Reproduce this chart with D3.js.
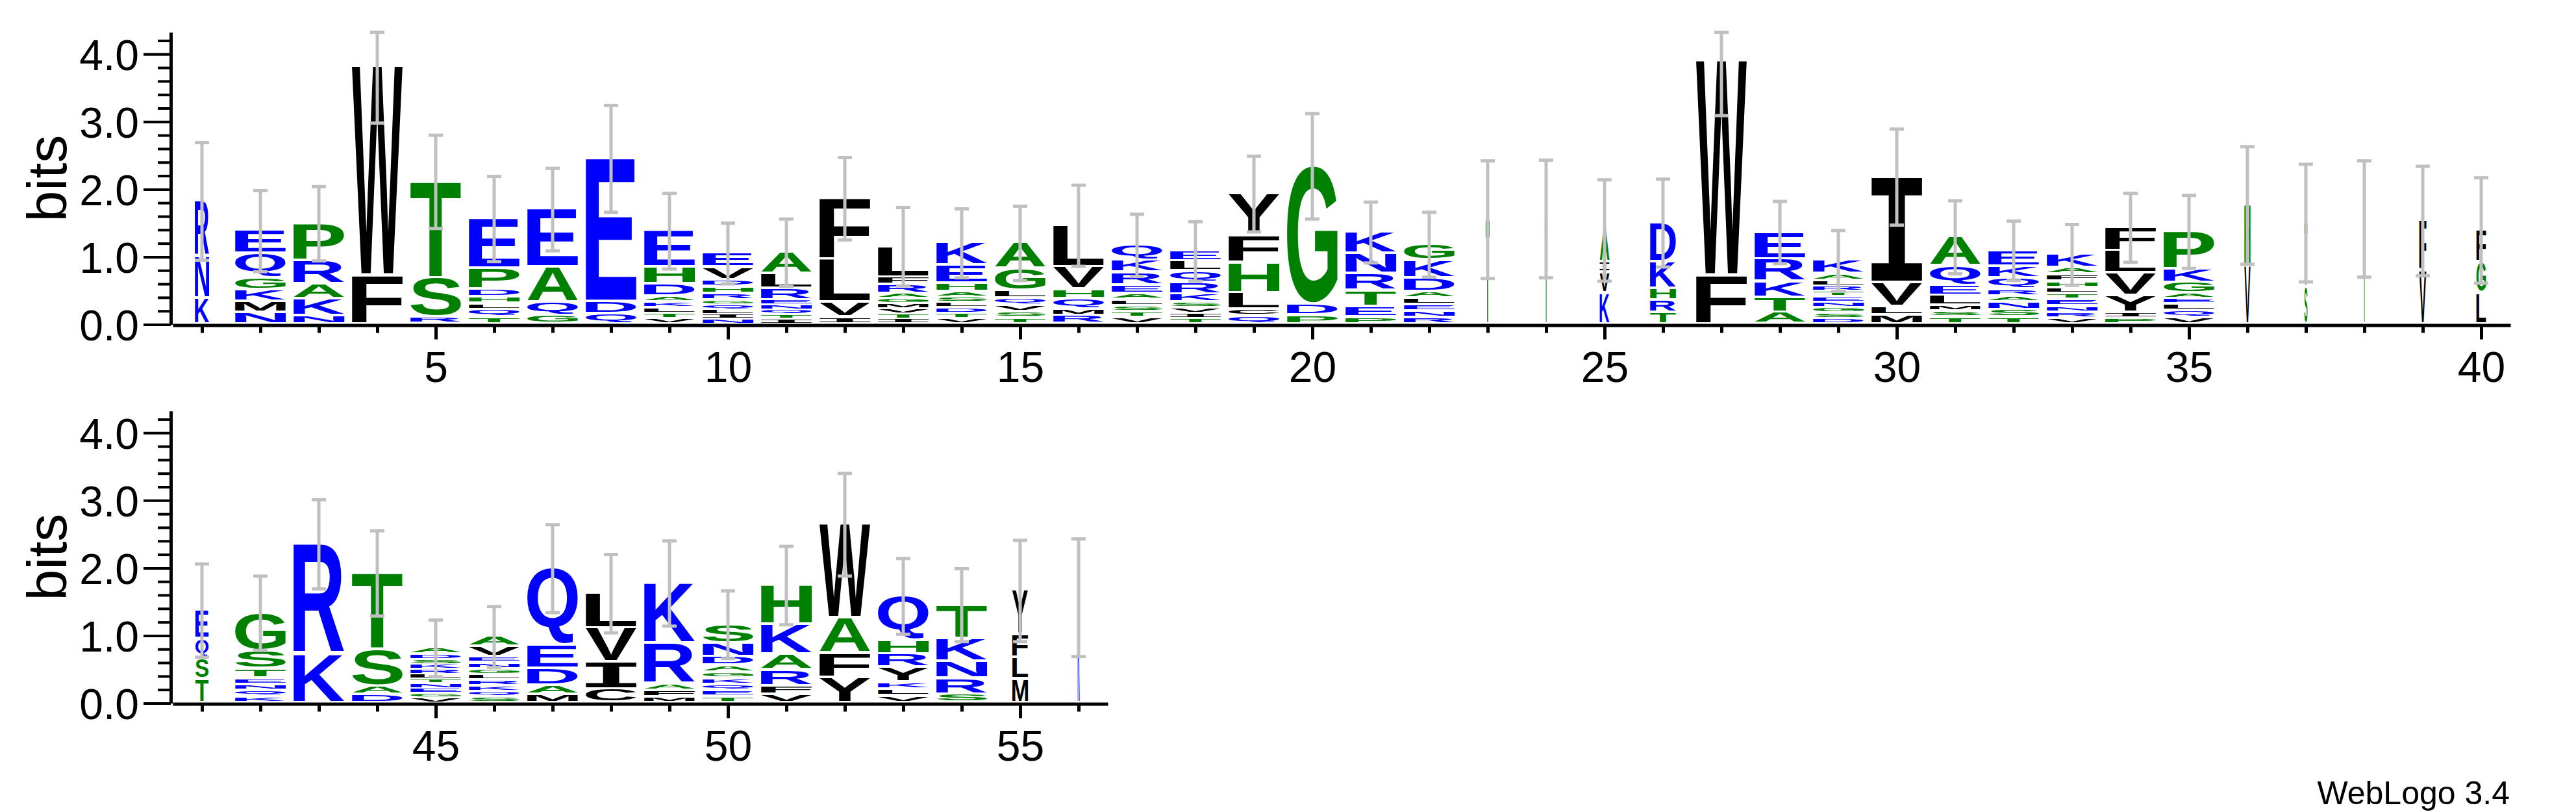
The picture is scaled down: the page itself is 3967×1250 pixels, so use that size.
<!DOCTYPE html>
<html>
<head>
<meta charset="utf-8">
<script src="https://cdn.jsdelivr.net/npm/d3@7"></script>
<style>
  html, body { margin: 0; padding: 0; background: #ffffff; }
  svg { display: block; }
</style>
</head>
<body>
<script>
// ---------------- DATA ----------------
// Letters of each stack, listed bottom-up, one string per position 1..56
const stackLetters = [
  "KNR", "NMKGQE", "NKARP", "FW", "RST", "TQLHDPE", "GQAE", "QDE", "VTLKADHE", "NILQGRHDVE",
  "ITQNERLA", "IVLF", "ITVMGARFL", "VTDLSAHEK", "TSVQLGA", "RMQHVL", "VTSLAERKQ", "TIVSKRQLE", "QCLHFY", "PDG",
  "PETRNK", "RNELADKG", "T", "T", "KVIA", "TRHKD", "FW", "ATKRE", "DSGNETRLAK", "MLVI",
  "TSMLEQA", "TSNARQKE", "VRNETLHFAK", "PIYVLF", "VQLEAGKP", "VH", "ST", "T", "VF", "LGF",
  "TSQE", "KQNETSG", "KR", "DAST", "VGENTLRKSDA", "SQKRLGNEVA", "MADEQ", "CIVL", "MFARK", "TEQKGADNS",
  "VFRAKH", "YFAW", "VLKYRHQ", "SRNKT", "MLFY", "K"
];
// Height (bits) of each letter, same order as stackLetters
const stackBits = [
  [.38,.62,.82], [.17,.16,.17,.18,.36,.34], [.12,.25,.22,.35,.55], [.72,3.10], [.10,.58,1.43],
  [.10,.11,.09,.10,.11,.31,.74], [.12,.20,.52,.86], [.15,.18,2.12], [.08,.08,.08,.09,.08,.18,.25,.54],
  [.07,.07,.07,.07,.07,.10,.10,.10,.19,.21],
  [.07,.07,.07,.07,.07,.17,.22,.32], [.10,.22,.64,.90], [.075,.075,.075,.075,.075,.075,.13,.11,.46],
  [.08,.08,.08,.08,.08,.08,.12,.27,.33], [.09,.09,.10,.10,.11,.33,.38], [.12,.10,.15,.14,.33,.62],
  [.09,.09,.09,.09,.09,.12,.19,.18,.23], [.08,.08,.08,.08,.12,.17,.17,.15,.15], [.12,.10,.24,.45,.40,.62],
  [.13,.16,2.05],
  [.10,.15,.24,.25,.30,.32], [.095,.095,.095,.095,.10,.20,.26,.24], [1.55], [1.56], [.46,.30,.15,.48],
  [.17,.18,.17,.40,.58], [.72,3.18], [.17,.22,.24,.33,.40], [.08,.08,.08,.08,.08,.09,.07,.08,.10,.20],
  [.13,.12,.36,1.57],
  [.10,.09,.08,.15,.15,.29,.43], [.10,.11,.11,.09,.10,.17,.17,.24], [.08,.09,.09,.10,.09,.09,.09,.10,.10,.20],
  [.09,.08,.25,.33,.33,.35], [.10,.10,.10,.08,.07,.16,.20,.56], [.86,.90], [.55,.95], [1.56], [.79,.74],
  [.46,.46,.47],
  [.35,.30,.30,.42], [.09,.09,.09,.09,.14,.27,.56], [.72,1.63], [.12,.12,.55,1.13],
  [.07,.07,.07,.07,.07,.07,.07,.075,.075,.075,.095], [.083,.083,.083,.083,.083,.085,.09,.09,.15,.15],
  [.12,.13,.25,.35,1.14], [.20,.40,.50,.52], [.08,.10,.10,.60,.89], [.09,.09,.09,.09,.09,.10,.13,.20,.28],
  [.12,.12,.24,.24,.44,.58], [.37,.36,.52,1.39], [.10,.10,.10,.22,.20,.20,.66], [.12,.24,.25,.34,.50],
  [.35,.32,.34,.65], [1.56]
];
// Half-length of each error bar (bits)
const errorBits = [
  .87,.60,.55,.84,.69,.63,.61,.79,.56,.45,
  .50,.61,.58,.51,.55,.60,.46,.44,.56,.78,
  .45,.48,.87,.87,.75,.65,.81,.46,.45,.71,
  .54,.44,.45,.51,.54,.87,.87,.86,.81,.78,
  .69,.55,.66,.63,.42,.45,.65,.58,.63,.50,
  .58,.76,.56,.54,.75,.87
];
// Fraction of non-gap sequences (stack width scale), default 1
const occupancy = {1:.28, 23:.08, 24:.05, 25:.19, 26:.51, 36:.12, 37:.06, 38:.04, 39:.14, 40:.19, 41:.26, 55:.31, 56:.04};
const yMajorTicks = [0, 1, 2, 3, 4];
const yMinorTicks = d3.range(1, 22).filter(i => i % 5 !== 0).map(i => i / 5);
const xMajorTicksRow1 = [5, 10, 15, 20, 25, 30, 35, 40];
const xMajorTicksRow2 = [45, 50, 55];
const colorGroups = { hydrophilic: "RKDENQ", neutral: "SGHTAP", hydrophobic: "YVMCLFIW" };
const groupColors = { hydrophilic: "#0000ff", neutral: "#008000", hydrophobic: "#000000" };
const maxBits = Math.log2(20);

// ---------------- LAYOUT ----------------
const W = 3967, H = 1250;
const svg = d3.select("body").append("svg").attr("width", W).attr("height", H)
  .attr("viewBox", `0 0 ${W} ${H}`);
svg.append("rect").attr("width", W).attr("height", H).attr("fill", "#ffffff");

const rows = [
  { first: 1, last: 40, baseline: 499.5, majors: xMajorTicksRow1 },
  { first: 41, last: 56, baseline: 1082.5, majors: xMajorTicksRow2 }
];
const axisX = 263, plotLeft = 266, step = 90, plotH = 449.75, letterFrac = 0.867;

function colorOf(ch) {
  for (const k in colorGroups) if (colorGroups[k].includes(ch)) return groupColors[k];
  return "#000000";
}

// glyph ink metrics
const ctx = document.createElement("canvas").getContext("2d");
const FS = 200;
function familyOf(ch) { return ch === "I" ? "Liberation Mono" : "Liberation Sans"; }
const mcache = {};
function metrics(ch) {
  if (!mcache[ch]) {
    ctx.font = `bold ${FS}px "${familyOf(ch)}"`;
    const m = ctx.measureText(ch);
    mcache[ch] = { l: m.actualBoundingBoxLeft, r: m.actualBoundingBoxRight,
                   a: m.actualBoundingBoxAscent, d: m.actualBoundingBoxDescent };
  }
  return mcache[ch];
}

const tickFont = "Liberation Sans, Arial, Helvetica, sans-serif";

rows.forEach(row => {
  const n = row.last - row.first + 1;
  const x = d3.scaleLinear().domain([row.first - 0.5, row.last + 0.5]).range([plotLeft, plotLeft + n * step]);
  const y = d3.scaleLinear().domain([0, maxBits]).range([row.baseline, row.baseline - plotH]);
  const g = svg.append("g");

  // stacks
  const posData = d3.range(row.first, row.last + 1).map(p => {
    const letters = stackLetters[p - 1].split("");
    const bits = stackBits[p - 1];
    let cum = 0;
    const items = letters.map((ch, i) => {
      const it = { ch, y0: cum, y1: cum + bits[i] };
      cum += bits[i];
      return it;
    });
    return { p, items, total: cum, err: errorBits[p - 1], occ: occupancy[p] ?? 1 };
  });

  const unit = x(1) - x(0);
  const stacks = g.selectAll("g.stack").data(posData).join("g").attr("class", "stack");
  stacks.each(function (d) {
    const w = unit * letterFrac * d.occ;
    const cx = x(d.p);
    d3.select(this).selectAll("text").data(d.items).join("text")
      .text(it => it.ch)
      .attr("x", 0).attr("y", 0)
      .attr("font-size", FS)
      .attr("font-weight", "bold")
      .attr("font-family", it => `"${familyOf(it.ch)}"`)
      .attr("fill", it => colorOf(it.ch))
      .attr("transform", it => {
        const m = metrics(it.ch);
        const top = y(it.y1), boxH = y(it.y0) - y(it.y1);
        const bh = boxH - Math.min(4, boxH * 0.4);
        const sx = w / (m.l + m.r), sy = bh / (m.a + m.d);
        return `translate(${cx - w / 2 + m.l * sx},${top + m.a * sy}) scale(${sx},${sy})`;
      });
  });

  // error bars
  const eb = g.selectAll("g.err").data(posData).join("g").attr("class", "err")
    .attr("stroke", "#c0c0c0").attr("stroke-width", 5);
  eb.append("line")
    .attr("x1", d => x(d.p)).attr("x2", d => x(d.p))
    .attr("y1", d => y(Math.min(maxBits, d.total + d.err)))
    .attr("y2", d => y(Math.max(0, d.total - d.err)));
  eb.append("line")
    .attr("x1", d => x(d.p) - 11).attr("x2", d => x(d.p) + 11)
    .attr("y1", d => y(Math.min(maxBits, d.total + d.err)))
    .attr("y2", d => y(Math.min(maxBits, d.total + d.err)));
  eb.append("line")
    .attr("x1", d => x(d.p) - 11).attr("x2", d => x(d.p) + 11)
    .attr("y1", d => y(Math.max(0, d.total - d.err)))
    .attr("y2", d => y(Math.max(0, d.total - d.err)));

  // y axis
  const ya = g.append("g").attr("transform", `translate(${axisX},0)`)
    .call(d3.axisLeft(y).tickValues(yMajorTicks).tickFormat(d3.format(".1f"))
      .tickSize(42).tickSizeOuter(0).tickPadding(7));
  ya.select(".domain").attr("stroke", "#000").attr("stroke-width", 5);
  ya.selectAll(".tick line").attr("stroke", "#000").attr("stroke-width", 4);
  ya.selectAll(".tick text").attr("font-size", 66).attr("font-family", tickFont)
    .attr("fill", "#000").attr("dy", "0.36em");
  const ym = g.append("g").attr("transform", `translate(${axisX},0)`)
    .call(d3.axisLeft(y).tickValues(yMinorTicks).tickFormat("").tickSize(20).tickSizeOuter(0));
  ym.select(".domain").remove();
  ym.selectAll(".tick line").attr("stroke", "#000").attr("stroke-width", 4);

  // x axis
  const xa = g.append("g").attr("transform", `translate(0,${row.baseline + 1})`)
    .call(d3.axisBottom(x).tickValues(d3.range(row.first, row.last + 1)).tickFormat("")
      .tickSize(12).tickSizeOuter(0));
  xa.select(".domain").attr("stroke", "#000").attr("stroke-width", 5);
  xa.selectAll(".tick line").attr("stroke", "#000").attr("stroke-width", 5);
  const xM = g.append("g").attr("transform", `translate(0,${row.baseline + 1})`)
    .call(d3.axisBottom(x).tickValues(row.majors).tickFormat(d3.format("d"))
      .tickSize(22).tickSizeOuter(0).tickPadding(19));
  xM.select(".domain").remove();
  xM.selectAll(".tick line").attr("stroke", "#000").attr("stroke-width", 5);
  xM.selectAll(".tick text").attr("font-size", 66).attr("font-family", tickFont).attr("fill", "#000");

  // y label
  g.append("text").text("bits")
    .attr("transform", `translate(102,${(y(0) + y(maxBits)) / 2}) rotate(-90)`)
    .attr("text-anchor", "middle")
    .attr("font-size", 86).attr("font-family", tickFont).attr("fill", "#000");
});

svg.append("text").text("WebLogo 3.4")
  .attr("x", 3865).attr("y", 1238)
  .attr("text-anchor", "end")
  .attr("font-size", 50).attr("font-family", tickFont).attr("fill", "#000");
</script>
</body>
</html>
